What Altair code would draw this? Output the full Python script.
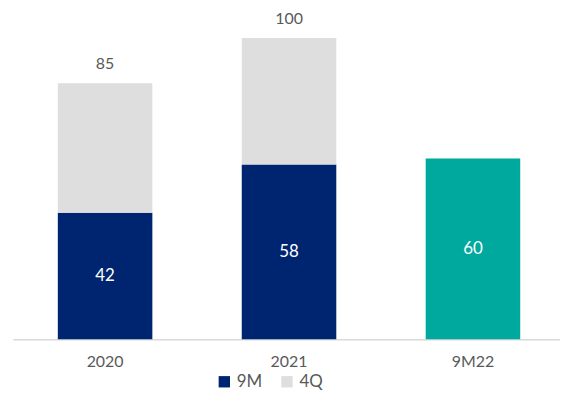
import altair as alt
import pandas as pd

categories = ["2020", "2021", "9M22"]
nine_m = [42, 58, 60]
fourth_q = [43, 42, None]
totals = [85, 100, None]
series_9m = ["9M", "9M", "9M22"]

rows = []
for c, v, s in zip(categories, nine_m, series_9m):
    rows.append({"cat": c, "series": s, "value": v, "order": 0, "label": str(v)})
for c, v in zip(categories, fourth_q):
    if v is not None:
        rows.append({"cat": c, "series": "4Q", "value": v, "order": 1, "label": ""})
df = pd.DataFrame(rows)

tot_df = pd.DataFrame({"cat": categories, "total": totals}).dropna()
tot_df["label"] = tot_df["total"].astype(int).astype(str)

lab_df = pd.DataFrame({"cat": categories, "value": nine_m})
lab_df["mid"] = lab_df["value"] / 2
lab_df["label"] = lab_df["value"].astype(str)

FONT = "Lato"
x_enc = alt.X("cat:N", sort=categories, title=None,
              scale=alt.Scale(paddingInner=0.486, paddingOuter=0.23, align=0.53),
              axis=alt.Axis(labelAngle=0, labelFontSize=16, labelColor="#595959",
                            labelFont=FONT, labelPadding=14, ticks=False,
                            domainColor="#d9d9d9", domainWidth=1.5))
y_scale = alt.Scale(domain=[0, 109.6], nice=False)

bars = alt.Chart(df).mark_bar().encode(
    x=x_enc,
    y=alt.Y("value:Q", stack="zero", scale=y_scale, axis=None),
    color=alt.Color("series:N",
                    scale=alt.Scale(domain=["9M", "4Q", "9M22"],
                                    range=["#002570", "#dedede", "#00a99d"]),
                    legend=alt.Legend(values=["9M", "4Q"], title=None, orient="none",
                                      direction="horizontal", legendX=204, legendY=366,
                                      symbolType="square", symbolSize=130,
                                      symbolStrokeWidth=0, labelFontSize=17,
                                      labelColor="#595959", labelFont=FONT,
                                      columnPadding=16, labelOffset=4)),
    order=alt.Order("order:Q"),
)

inner = alt.Chart(lab_df).mark_text(color="white", fontSize=17, font=FONT,
                                    baseline="middle").encode(
    x=alt.X("cat:N", sort=categories),
    y=alt.Y("mid:Q", scale=y_scale),
    text="label:N",
)

top = alt.Chart(tot_df).mark_text(color="#595959", fontSize=16, font=FONT,
                                  baseline="middle", dy=-19).encode(
    x=alt.X("cat:N", sort=categories),
    y=alt.Y("total:Q", scale=y_scale),
    text="label:N",
)

chart = alt.layer(bars, inner, top).properties(
    width=550, height=332,
    autosize=alt.AutoSizeParams(type="none"),
    padding={"left": 5, "top": 0, "right": 0, "bottom": 55},
).configure_view(stroke=None)

chart.save("out.html", embed_options={"renderer": "svg", "actions": False})
